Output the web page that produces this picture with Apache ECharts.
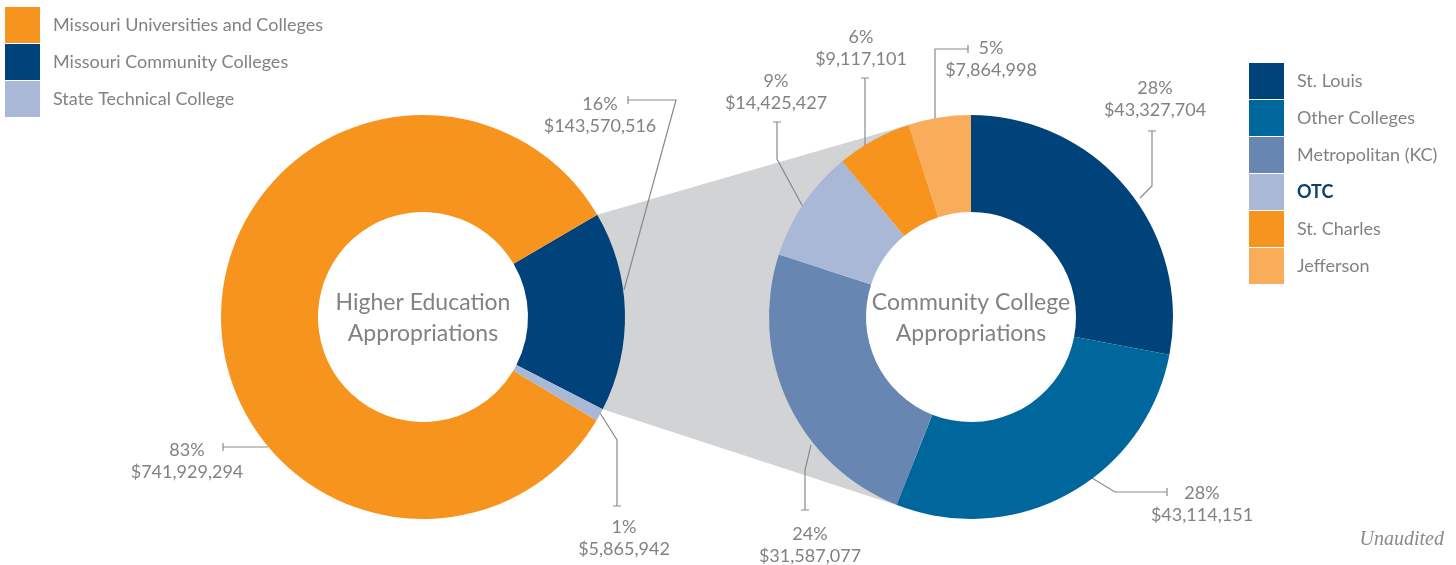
<!DOCTYPE html>
<html>
<head>
<meta charset="utf-8">
<script src="https://cdn.jsdelivr.net/npm/echarts@6/dist/echarts.min.js"></script>
<style>
  html, body { margin: 0; padding: 0; background: #fff; }
  #chart { width: 1456px; height: 565px; }
</style>
</head>
<body>
<div id="chart"></div>
<script>
// higher education appropriations (left ring), order = drawing order clockwise
const hiCategories = ['Missouri Community Colleges', 'State Technical College', 'Missouri Universities and Colleges']
const hiShares = [16, 1, 83]
const hiAmounts = [143570516, 5865942, 741929294]
const hiLegendOrder = ['Missouri Universities and Colleges', 'Missouri Community Colleges', 'State Technical College']

// community college appropriations (right ring)
const ccCategories = ['St. Louis', 'Other Colleges', 'Metropolitan (KC)', 'OTC', 'St. Charles', 'Jefferson']
const ccShares = [28, 28, 24, 9, 6, 5]
const ccAmounts = [43327704, 43114151, 31587077, 14425427, 9117101, 7864998]

// styles
const hiColors = ['#00427a', '#a9b8d7', '#f7941d']
const ccColors = ['#00427a', '#00679d', '#6786b1', '#a9b8d7', '#f7941d', '#f9ad5a']
const gray = '#808285'
const font = 'Lato'

const L = { cx: 423, cy: 317, r0: 105, r: 202, start: 30.4 }
const R = { cx: 971, cy: 317, r0: 105, r: 202, start: 90 }

// label positions + leader lines (x, y = middle of the text block)
const hiLabelPos = [
  { x: 600, y: 115, line: [[624, 290], [676, 100], [628, 100]], tick: 'v' },
  { x: 624, y: 538, line: [[600, 413], [617, 440], [617, 506]], tick: 'h' },
  { x: 187, y: 461, line: [[268, 447], [223, 447]], tick: 'v' }
]
const ccLabelPos = [
  { x: 1155, y: 99, line: [[1140, 198], [1152, 186], [1152, 131]], tick: 'h' },
  { x: 1202, y: 504, line: [[1082, 472], [1115, 492], [1167, 492]], tick: 'v' },
  { x: 810, y: 545, line: [[811, 445], [805, 470], [805, 510]], tick: 'h' },
  { x: 776, y: 92, line: [[803, 207], [777, 159], [777, 122]], tick: 'h' },
  { x: 861, y: 48, line: [[865, 150], [865, 78]], tick: 'h' },
  { x: 991, y: 59, line: [[935, 125], [935, 49], [968, 49]], tick: 'v' }
]

function withTick(p) {
  var pts = p.line.slice()
  var e = pts[pts.length - 1]
  if (p.tick === 'v') {
    pts.push([e[0], e[1] - 4], [e[0], e[1] + 4])
  } else {
    pts.push([e[0] - 4, e[1]], [e[0] + 4, e[1]])
  }
  return pts
}

function fmtMoney(v) {
  return '$' + v.toLocaleString('en-US')
}

// grey connector: from the community-college slice edges to the right ring tangents
function connector() {
  var total = hiShares.reduce(function (a, b) { return a + b }, 0)
  var a1 = L.start * Math.PI / 180
  var a2 = (L.start - hiShares[0] / total * 360) * Math.PI / 180
  var P1 = [L.cx + L.r * Math.cos(a1), L.cy - L.r * Math.sin(a1)]
  var P2 = [L.cx + L.r * Math.cos(a2), L.cy - L.r * Math.sin(a2)]
  function tangent(P, up) {
    var dx = R.cx - P[0]
    var dy = R.cy - P[1]
    var d = Math.sqrt(dx * dx + dy * dy)
    var th = Math.atan2(dy, dx)
    var al = Math.asin(R.r / d)
    var phi = up ? th - al : th + al
    var len = Math.sqrt(d * d - R.r * R.r)
    return [P[0] + len * Math.cos(phi), P[1] + len * Math.sin(phi)]
  }
  var T1 = tangent(P1, true)
  var T2 = tangent(P2, false)
  var b1 = Math.atan2(T1[1] - R.cy, T1[0] - R.cx)
  var b2 = Math.atan2(T2[1] - R.cy, T2[0] - R.cx)
  if (b2 > b1) b2 -= Math.PI * 2
  var mid = (R.r + R.r0) / 2
  var pts = [P1, T1]
  for (var i = 0; i <= 30; i++) {
    var b = b1 + (b2 - b1) * i / 30
    pts.push([R.cx + mid * Math.cos(b), R.cy + mid * Math.sin(b)])
  }
  pts.push(T2, P2)
  return pts
}

var chartDom = document.getElementById('chart')
var myChart = echarts.init(chartDom)
var option

var labelStyle = {
  show: true,
  position: 'outside',
  fontFamily: font,
  fontSize: 18,
  color: gray,
  lineHeight: 22,
  align: 'center'
}

var legendText = { fontFamily: font, fontSize: 18, color: gray, padding: [10, 0, 0, 8] }

option = {
  animation: false,
  legend: [
    {
      orient: 'vertical',
      left: 5,
      top: 7,
      padding: 0,
      itemWidth: 35,
      itemHeight: 36,
      itemGap: 1,
      icon: 'rect',
      selectedMode: false,
      data: hiLegendOrder,
      textStyle: legendText
    },
    {
      orient: 'vertical',
      left: 1249,
      top: 63,
      padding: 0,
      itemWidth: 35,
      itemHeight: 36,
      itemGap: 1,
      icon: 'rect',
      selectedMode: false,
      data: ccCategories.map(function (n) {
        if (n === 'OTC') return { name: n, textStyle: { fontWeight: 'bold', color: '#0d3f73' } }
        return n
      }),
      textStyle: legendText
    }
  ],
  graphic: [
    {
      type: 'polygon',
      z: 0,
      silent: true,
      shape: { points: connector() },
      style: { fill: '#d1d3d4' }
    },
    {
      type: 'text',
      x: L.cx,
      y: L.cy + 1,
      z: 10,
      style: {
        text: 'Higher Education\nAppropriations',
        fontFamily: font, fontSize: 23, lineHeight: 31, fill: gray,
        align: 'center', verticalAlign: 'middle'
      }
    },
    {
      type: 'text',
      x: R.cx,
      y: R.cy + 1,
      z: 10,
      style: {
        text: 'Community College\nAppropriations',
        fontFamily: font, fontSize: 23, lineHeight: 31, fill: gray,
        align: 'center', verticalAlign: 'middle'
      }
    },
    {
      type: 'text',
      right: 12,
      top: 530,
      style: {
        text: 'Unaudited',
        fontFamily: 'Liberation Serif', fontStyle: 'italic', fontSize: 20, fill: '#8a8a8a'
      }
    }
  ],
  series: [
    {
      name: 'Higher Education Appropriations',
      type: 'pie',
      center: [L.cx, L.cy],
      radius: [L.r0, L.r],
      startAngle: L.start,
      clockwise: true,
      avoidLabelOverlap: false,
      silent: true,
      data: hiCategories.map(function (n, i) {
        return { name: n, value: hiShares[i], itemStyle: { color: hiColors[i] } }
      }),
      label: Object.assign({}, labelStyle, {
        formatter: function (p) {
          return p.value + '%\n' + fmtMoney(hiAmounts[p.dataIndex])
        }
      }),
      labelLine: { show: true, lineStyle: { color: '#8a8a8a', width: 1.2 } },
      labelLayout: function (params) {
        var p = hiLabelPos[params.dataIndex]
        return { x: p.x, y: p.y, align: 'center', verticalAlign: 'middle', labelLinePoints: withTick(p) }
      }
    },
    {
      name: 'Community College Appropriations',
      type: 'pie',
      center: [R.cx, R.cy],
      radius: [R.r0, R.r],
      startAngle: R.start,
      clockwise: true,
      avoidLabelOverlap: false,
      silent: true,
      data: ccCategories.map(function (n, i) {
        return { name: n, value: ccShares[i], itemStyle: { color: ccColors[i] } }
      }),
      label: Object.assign({}, labelStyle, {
        formatter: function (p) {
          return p.value + '%\n' + fmtMoney(ccAmounts[p.dataIndex])
        }
      }),
      labelLine: { show: true, lineStyle: { color: '#8a8a8a', width: 1.2 } },
      labelLayout: function (params) {
        var p = ccLabelPos[params.dataIndex]
        return { x: p.x, y: p.y, align: 'center', verticalAlign: 'middle', labelLinePoints: withTick(p) }
      }
    }
  ]
}

option && myChart.setOption(option)
</script>
</body>
</html>
